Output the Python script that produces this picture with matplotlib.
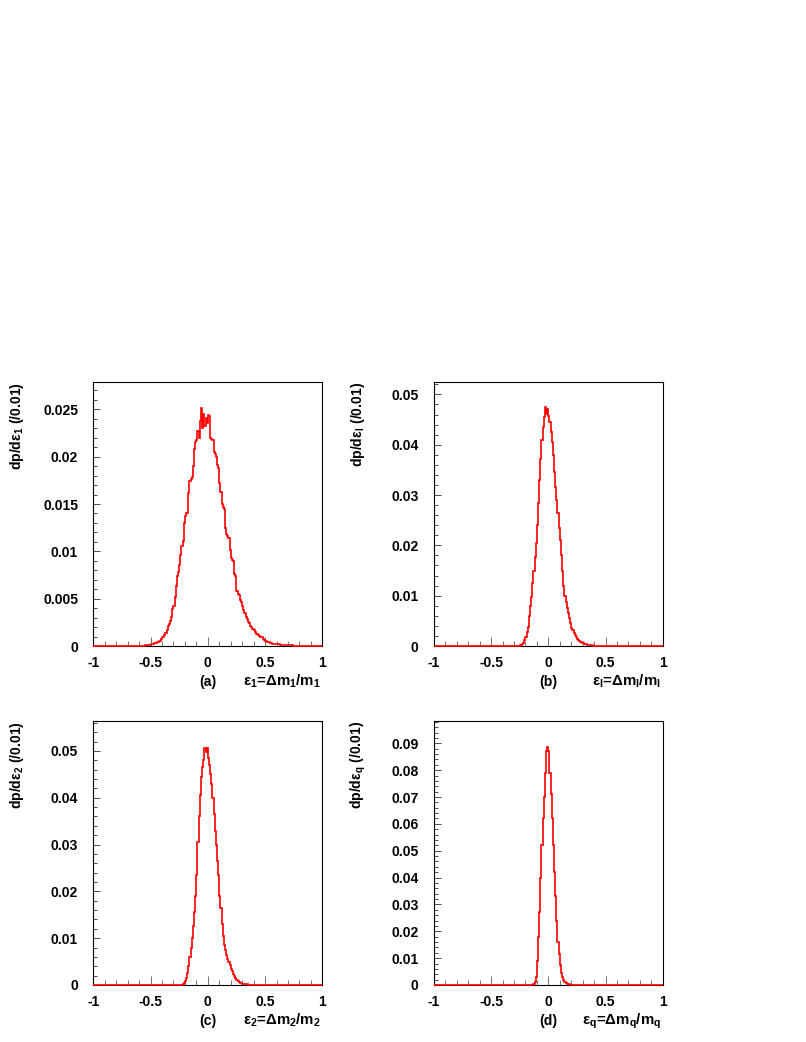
import numpy as np
import matplotlib
matplotlib.use("Agg")
import matplotlib.pyplot as plt
from matplotlib.ticker import MultipleLocator, FormatStrFormatter

plt.rcParams['font.family'] = ['Liberation Sans', 'DejaVu Sans']
plt.rcParams['font.weight'] = 'bold'

# ---------------- data (dp/d eps per 0.01 bin) ----------------
bin_width = 0.01
x_min, x_max = -1.0, 1.0

# panel (a): eps_1, values start at bin [-0.60, -0.59)
eps1_start = -0.60
eps1_values = [
    0.00002, 0.00002, 0.00003, 0.00004, 0.00005, 0.00006, 0.00008, 0.0001, 0.00012, 0.00015,
    0.00018, 0.0002, 0.00024, 0.00028, 0.0003, 0.00035, 0.0004, 0.00048, 0.00055, 0.0007,
    0.0009, 0.0010, 0.0012, 0.0014, 0.0017, 0.0021, 0.0023, 0.0026, 0.0031, 0.0039,
    0.0042, 0.0052, 0.0063, 0.0074, 0.0078, 0.0086, 0.0096, 0.0106, 0.0111, 0.0130,
    0.0137, 0.0140, 0.0141, 0.0162, 0.0174, 0.0176, 0.0178, 0.0190, 0.0208, 0.0215,
    0.0218, 0.0227, 0.0220, 0.0238, 0.0251, 0.0230, 0.0245, 0.0232, 0.0241, 0.0236,
    0.0244, 0.0243, 0.0220, 0.0219, 0.0218, 0.0205, 0.0203, 0.0200, 0.0191, 0.0188,
    0.0172, 0.0163, 0.0150, 0.0147, 0.0145, 0.0125, 0.0118, 0.0116, 0.0114, 0.0101,
    0.0093, 0.0091, 0.0090, 0.0076, 0.0074, 0.0058, 0.0055, 0.0054, 0.0049, 0.0046,
    0.0042, 0.0038, 0.0035, 0.0031, 0.0028, 0.0025, 0.0024, 0.0021, 0.0020, 0.0018,
    0.0017, 0.0015, 0.0013, 0.0013, 0.0012, 0.0011, 0.0010, 0.0009, 0.0007, 0.0006,
    0.0005, 0.0005, 0.0004, 0.0004, 0.0003, 0.0003, 0.00025, 0.00025, 0.0002, 0.0002,
    0.0002, 0.00018, 0.00016, 0.00015, 0.00014, 0.00013, 0.00012, 0.00011, 0.0001, 0.0001,
    0.00009, 0.00008, 0.00007, 0.00006, 0.00005, 0.00005, 0.00004, 0.00004, 0.00003, 0.00003,
    0.00002, 0.00002, 0.00002, 0.00001, 0.00001, 0.00001,
]

# panel (b): eps_l
epsl_start = -0.25
epsl_values = [
    0.0001, 0.0002, 0.0004, 0.0006, 0.0012, 0.0018, 0.0027, 0.0037, 0.0060, 0.0079,
    0.0098, 0.0125, 0.0150, 0.0176, 0.0205, 0.0240, 0.0285, 0.0330, 0.0372, 0.0410,
    0.0435, 0.0455, 0.0474, 0.0461, 0.0470, 0.0457, 0.0446, 0.0425, 0.0405, 0.0380,
    0.0345, 0.0315, 0.0290, 0.0265, 0.0235, 0.0210, 0.0180, 0.0150, 0.0120, 0.0100,
    0.0088, 0.0076, 0.0065, 0.0055, 0.0045, 0.0036, 0.0031, 0.0025, 0.0021, 0.0017,
    0.0014, 0.0011, 0.0009, 0.0007, 0.0006, 0.0005, 0.0004, 0.0003, 0.0003, 0.00025,
    0.0002, 0.00015, 0.00012, 0.0001, 0.00008, 0.00006, 0.00005, 0.00004, 0.00003, 0.00002,
]

# panel (c): eps_2
eps2_start = -0.24
eps2_values = [
    0.00005, 0.0001, 0.0002, 0.0005, 0.0009, 0.0015, 0.0025, 0.0040, 0.0060, 0.0078,
    0.0100, 0.0125, 0.0155, 0.0190, 0.0235, 0.0305, 0.0360, 0.0405, 0.0445, 0.0465,
    0.0480, 0.0507, 0.0498, 0.0507, 0.0485, 0.0470, 0.0450, 0.0430, 0.0400, 0.0365,
    0.0330, 0.0300, 0.0265, 0.0235, 0.0190, 0.0165, 0.0130, 0.0105, 0.0085, 0.0074,
    0.0064, 0.0056, 0.0049, 0.0042, 0.0035, 0.0029, 0.0024, 0.0019, 0.0014, 0.0011,
    0.0008, 0.0006, 0.0005, 0.0004, 0.0003, 0.00025, 0.0002, 0.00015, 0.00012, 0.0001,
    0.00008, 0.00006, 0.00005, 0.00003, 0.00002,
]

# panel (d): eps_q
epsq_start = -0.14
epsq_values = [
    0.0001, 0.0003, 0.0010, 0.0030, 0.0090, 0.0180, 0.0270, 0.0400, 0.0520, 0.0620,
    0.0700, 0.0790, 0.0870, 0.0885, 0.0870, 0.0790, 0.0710, 0.0620, 0.0520, 0.0420,
    0.0330, 0.0240, 0.0160, 0.0115, 0.0075, 0.0045, 0.0028, 0.0018, 0.0012, 0.0008,
    0.0005, 0.0003, 0.0002, 0.0001,
]

x_ticks = [-1, -0.5, 0, 0.5, 1]
panel_tags = ['(a)', '(b)', '(c)', '(d)']
subscripts = ['1', 'l', '2', 'q']


def full_hist(start, vals):
    n = int(round((x_max - x_min) / bin_width))
    h = np.zeros(n)
    i0 = int(round((start - x_min) / bin_width))
    h[i0:i0 + len(vals)] = vals
    return h


edges = np.linspace(x_min, x_max, int(round((x_max - x_min) / bin_width)) + 1)
hists = [full_hist(eps1_start, eps1_values), full_hist(epsl_start, epsl_values),
         full_hist(eps2_start, eps2_values), full_hist(epsq_start, epsq_values)]

# ---------------- layout (pixels) ----------------
W, H = 806, 1042
fig = plt.figure(figsize=(W / 100, H / 100), dpi=100)

boxes = [  # left, right, top, bottom in pixels
    (93.3, 322.3, 381.7, 646.0),
    (434.0, 662.7, 381.7, 646.0),
    (93.3, 322.3, 721.0, 985.0),
    (434.0, 662.7, 721.0, 985.0),
]
ytops = [0.02792, 0.05252, 0.0564, 0.0983]
ymajor = [0.005, 0.01, 0.01, 0.01]
yminor = [0.001, 0.002, 0.002, 0.002]

fs = 10.1
fs_x = 10.8

for i, (l, r, t, b) in enumerate(boxes):
    ax = fig.add_axes([l / W, 1 - b / H, (r - l) / W, (b - t) / H])
    ax.stairs(hists[i], edges, color='#ff0000', linewidth=1.2, clip_on=False, zorder=3)
    ax.set_xlim(x_min, x_max)
    ax.set_ylim(0, ytops[i])
    for sp in ax.spines.values():
        sp.set_linewidth(0.8)
        sp.set_color('black')
    ax.xaxis.set_major_locator(plt.FixedLocator(x_ticks))
    ax.xaxis.set_minor_locator(MultipleLocator(0.1))
    ax.yaxis.set_major_locator(MultipleLocator(ymajor[i]))
    ax.yaxis.set_minor_locator(MultipleLocator(yminor[i]))
    ax.xaxis.set_major_formatter(FormatStrFormatter('%g'))
    ax.yaxis.set_major_formatter(FormatStrFormatter('%g'))
    ax.tick_params(axis='x', which='major', direction='in', length=6.5, width=0.7,
                   color='0.45', pad=7.0, labelsize=fs)
    ax.tick_params(axis='x', which='minor', direction='in', length=3.6, width=0.7,
                   color='0.45')
    ax.tick_params(axis='y', which='major', direction='in', length=5.2, width=0.7,
                   color='0.3', pad=11.0, labelsize=fs)
    ax.tick_params(axis='y', which='minor', direction='in', length=2.9, width=0.7,
                   color='0.3')
    for lab in ax.get_xticklabels() + ax.get_yticklabels():
        lab.set_fontweight('bold')

    s = subscripts[i]
    # y label, aligned with top of axes
    fig.text((l - 75.8) / W, 1 - t / H,
             r'dp/d$\mathregular{ε_{%s}}$ (/0.01)' % s,
             rotation=90, ha='center', va='top', fontsize=fs, fontweight='bold')
    # panel tag and x label
    base_y = 1 - (b + 40) / H
    fig.text((l + 114.4) / W, base_y, panel_tags[i], ha='center', va='baseline',
             fontsize=fs, fontweight='bold')
    fig.text((r - 1.5) / W, base_y,
             r'$\mathregular{ε_{%s}}$=$\mathregular{Δm_{%s}}$/$\mathregular{m_{%s}}$' % (s, s, s),
             ha='right', va='baseline', fontsize=fs_x, fontweight='bold')

fig.savefig('out.png', dpi=100)
